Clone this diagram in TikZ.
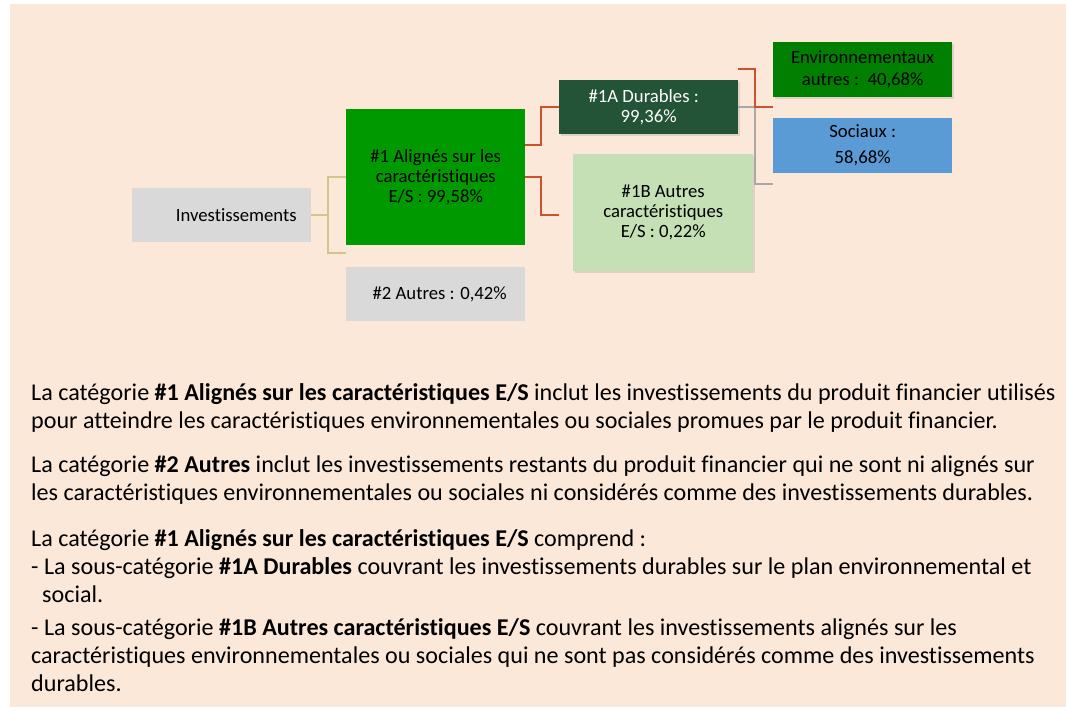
\documentclass[tikz,border=0pt]{standalone}
\usepackage{fontspec}
\setmainfont{Carlito}[Ligatures=CommonOff]
\usetikzlibrary{calc,shadows}

\definecolor{panel}{HTML}{FBE8D8}
\definecolor{boxgrey}{HTML}{D9D9D9}
\definecolor{algreen}{HTML}{009900}
\definecolor{durgreen}{HTML}{235437}
\definecolor{othgreen}{HTML}{C5E0B4}
\definecolor{envgreen}{HTML}{007F00}
\definecolor{socblue}{HTML}{5B9BD5}
\definecolor{tanline}{HTML}{D4C68A}
\definecolor{redline}{HTML}{C9522F}
\definecolor{greyline}{HTML}{A8A8A8}

\begin{document}
\begin{tikzpicture}[
  x=1pt, y=-1pt,
  box/.style  ={rectangle,align=center,inner sep=0pt,anchor=north west,
                font=\fontsize{18.7}{20}\selectfont},
  grey/.style ={box,fill=boxgrey},
  shd/.style  ={drop shadow={opacity=0.22,shadow xshift=2pt,shadow yshift=-2pt}},
  wire/.style ={draw,line width=2pt},
  para/.style ={anchor=north west,align=left,inner sep=0pt,
                font=\fontsize{24.1}{28}\selectfont},
]

% ------------------------------------------------------------------ frame
\useasboundingbox (0,0) rectangle (1066,710);
\fill[white] (0,0) rectangle (1066,710);
\fill[panel] (10,4) rectangle (1066,707);

% ------------------------------------------------------------------ boxes
\node[grey,minimum width=179,minimum height=54,text width=150,align=right]
      (inv) at (132,188) {Investissements};
\node[box,fill=algreen,minimum width=179,minimum height=136]
      (al) at (346,109) {\#1 Alignés sur les\\caractéristiques\\E/S : 99,58\%};
\node[grey,minimum width=179,minimum height=54]
      (oth) at (346,267) {\hspace*{8pt}\#2 Autres : 0,42\%};

\node[box,shd,fill=durgreen,text=white,minimum width=179,minimum height=54]
      (dur) at (559,80) {\#1A Durables :\hspace*{10pt}\\99,36\%};
\node[box,shd,fill=othgreen,minimum width=180,minimum height=117]
      (es) at (573,154) {\#1B Autres\\caractéristiques\\E/S : 0,22\%};

\node[box,shd,fill=envgreen,minimum width=179,minimum height=55,
      font=\fontsize{18.7}{22}\selectfont]
      (env) at (773,42) {Environnementaux\\autres :\ \ 40,68\%};
\node[box,fill=socblue,minimum width=179,minimum height=55,
      font=\fontsize{18.7}{26}\selectfont]
      (soc) at (773,118) {Sociaux :\\58,68\%};

% ------------------------------------------------------------- connectors
\coordinate (oth-in) at (346,253);
\coordinate (es-in)  at (559,215);
\coordinate (env-a)  at (738,69);
\coordinate (env-in) at (773,107);
\coordinate (soc-in) at (773,184);

\draw[wire,tanline] (inv.east) -- ++(17,0) |- (al.west);
\draw[wire,tanline] (inv.east) -- ++(17,0) |- (oth-in);

\draw[wire,redline] ($(al.east)+(0,-32)$) -- ++(16,0) |- (dur.west);
\draw[wire,redline] (al.east) -- ++(16,0) |- (es-in);

\draw[wire,greyline] (dur.east) -- ++(17,0) |- (soc-in);
\draw[wire,redline] (env-a) -- ++(17,0) |- (env-in);

% ------------------------------------------------------------------- text
\node[para] (par1) at (31,383)
  {La catégorie \textbf{\#1 Alignés sur les caractéristiques E/S} inclut les investissements du produit financier utilisés\\
   pour atteindre les caractéristiques environnementales ou sociales promues par le produit financier.};
\node[para] (par2) at (31,456)
  {La catégorie \textbf{\#2 Autres} inclut les investissements restants du produit financier qui ne sont ni alignés sur\\
   les caractéristiques environnementales ou sociales ni considérés comme des investissements durables.};
\node[para] (par3) at (31,529)
  {La catégorie \textbf{\#1 Alignés sur les caractéristiques E/S} comprend :\\
   - La sous-catégorie \textbf{\#1A Durables} couvrant les investissements durables sur le plan environnemental et\\
   \hspace*{11pt}social.\\[5pt]
   - La sous-catégorie \textbf{\#1B Autres caractéristiques E/S} couvrant les investissements alignés sur les\\
   caractéristiques environnementales ou sociales qui ne sont pas considérés comme des investissements\\
   durables.};

\end{tikzpicture}
\end{document}
